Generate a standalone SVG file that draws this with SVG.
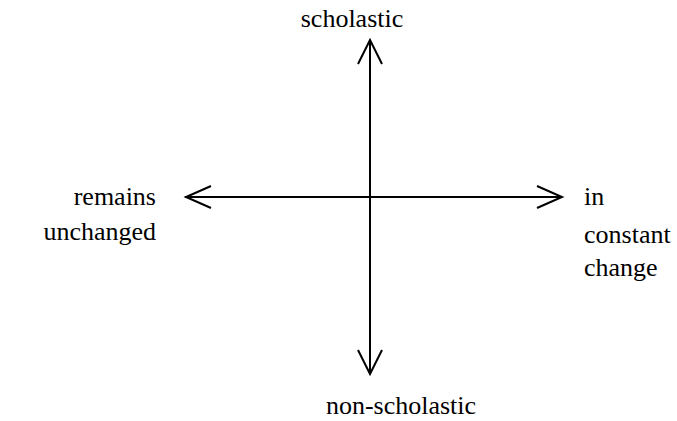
<svg xmlns="http://www.w3.org/2000/svg" width="677" height="421" viewBox="0 0 677 421">
<style>
.t{font-family:'Liberation Serif','Times New Roman',Times,serif;font-size:26px;fill:#000}
.ax{stroke:#000;stroke-width:2;fill:none}
</style>
<rect width="677" height="421" fill="#fff"/>
<g id="connectors">
<line class="ax" x1="370" y1="40" x2="370" y2="374"/>
<line class="ax" x1="185" y1="197" x2="562" y2="197"/>
<polyline class="ax" points="358,64 370,40 382,64"/>
<polyline class="ax" points="358,350 370,374 382,350"/>
<polyline class="ax" points="211,186 186,197 211,208"/>
<polyline class="ax" points="537,186 562,197 537,208"/>
</g>
<g id="top"><text class="t" x="352" y="27" text-anchor="middle">scholastic</text></g>
<g id="bottom"><text class="t" x="401" y="414" text-anchor="middle">non-scholastic</text></g>
<g id="left"><text class="t" x="156" y="205" text-anchor="end">remains</text><text class="t" x="156" y="240" text-anchor="end">unchanged</text></g>
<g id="right"><text class="t" x="584" y="205">in</text><text class="t" x="584" y="243">constant</text><text class="t" x="584" y="276">change</text></g>
</svg>
